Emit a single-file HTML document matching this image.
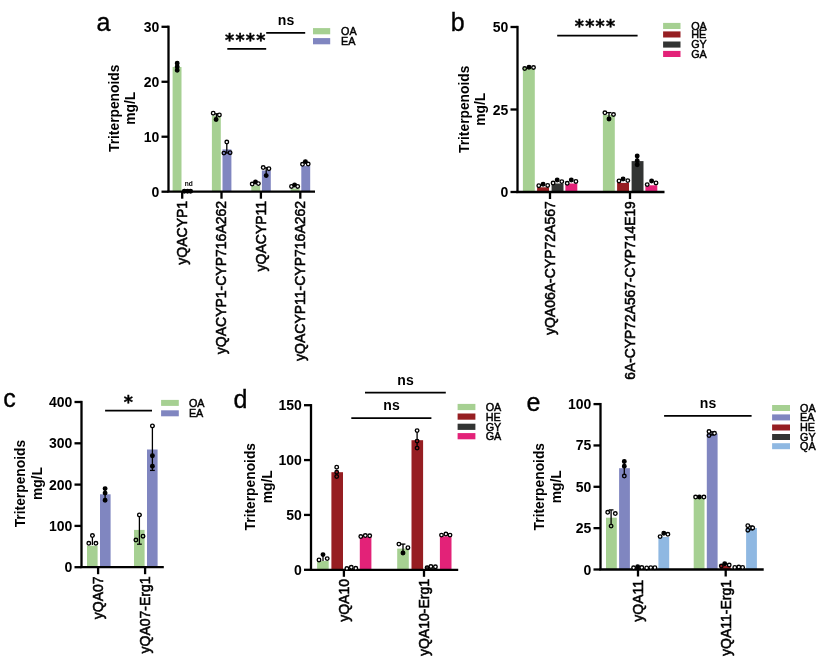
<!DOCTYPE html>
<html><head><meta charset="utf-8"><style>
html,body{margin:0;padding:0;background:#fff;}
svg{display:block;will-change:transform;}
text{font-family:"Liberation Sans", Arial, sans-serif;fill:#000;}
</style></head><body>
<svg width="831" height="670" viewBox="0 0 831 670">
<rect width="831" height="670" fill="#fff"/>
<rect x="172.60" y="67.00" width="8.90" height="124.70" fill="#a6d092"/>
<rect x="211.90" y="115.70" width="8.90" height="76.00" fill="#a6d092"/>
<rect x="222.50" y="149.40" width="8.90" height="42.30" fill="#8086c0"/>
<rect x="251.30" y="185.50" width="8.90" height="6.20" fill="#a6d092"/>
<rect x="261.90" y="170.50" width="8.90" height="21.20" fill="#8086c0"/>
<rect x="290.70" y="188.50" width="8.90" height="3.20" fill="#a6d092"/>
<rect x="301.30" y="165.80" width="8.90" height="25.90" fill="#8086c0"/>
<line x1="168.50" y1="25.65" x2="168.50" y2="191.70" stroke="#000" stroke-width="2.3"/>
<line x1="167.35" y1="191.70" x2="315.00" y2="191.70" stroke="#000" stroke-width="2.3"/>
<line x1="161.50" y1="191.70" x2="168.50" y2="191.70" stroke="#000" stroke-width="2.3"/>
<text x="159.30" y="196.70" font-size="14" font-weight="bold" text-anchor="end" >0</text>
<line x1="161.50" y1="136.73" x2="168.50" y2="136.73" stroke="#000" stroke-width="2.3"/>
<text x="159.30" y="141.73" font-size="14" font-weight="bold" text-anchor="end" >10</text>
<line x1="161.50" y1="81.77" x2="168.50" y2="81.77" stroke="#000" stroke-width="2.3"/>
<text x="159.30" y="86.77" font-size="14" font-weight="bold" text-anchor="end" >20</text>
<line x1="161.50" y1="26.80" x2="168.50" y2="26.80" stroke="#000" stroke-width="2.3"/>
<text x="159.30" y="31.80" font-size="14" font-weight="bold" text-anchor="end" >30</text>
<line x1="182.20" y1="191.70" x2="182.20" y2="198.70" stroke="#000" stroke-width="2.3"/>
<text transform="translate(187.10,200.90) rotate(-90)" font-size="14" font-weight="normal" text-anchor="end" stroke="#000" stroke-width="0.55">yQACYP1</text>
<line x1="221.50" y1="191.70" x2="221.50" y2="198.70" stroke="#000" stroke-width="2.3"/>
<text transform="translate(226.40,200.90) rotate(-90)" font-size="14" font-weight="normal" text-anchor="end" stroke="#000" stroke-width="0.55">yQACYP1-CYP716A262</text>
<line x1="260.90" y1="191.70" x2="260.90" y2="198.70" stroke="#000" stroke-width="2.3"/>
<text transform="translate(265.80,200.90) rotate(-90)" font-size="14" font-weight="normal" text-anchor="end" stroke="#000" stroke-width="0.55">yQACYP11</text>
<line x1="300.30" y1="191.70" x2="300.30" y2="198.70" stroke="#000" stroke-width="2.3"/>
<text transform="translate(305.20,200.90) rotate(-90)" font-size="14" font-weight="normal" text-anchor="end" stroke="#000" stroke-width="0.55">yQACYP11-CYP716A262</text>
<line x1="216.40" y1="113.80" x2="216.40" y2="119.40" stroke="#000" stroke-width="1.3"/>
<line x1="214.00" y1="113.80" x2="218.80" y2="113.80" stroke="#000" stroke-width="1.3"/>
<line x1="226.80" y1="142.00" x2="226.80" y2="153.00" stroke="#000" stroke-width="1.3"/>
<line x1="224.40" y1="153.00" x2="229.20" y2="153.00" stroke="#000" stroke-width="1.3"/>
<line x1="266.20" y1="167.80" x2="266.20" y2="175.60" stroke="#000" stroke-width="1.3"/>
<line x1="263.80" y1="167.80" x2="268.60" y2="167.80" stroke="#000" stroke-width="1.3"/>
<circle cx="177.20" cy="63.30" r="1.8" fill="#000" stroke="#000" stroke-width="1.35"/>
<circle cx="177.20" cy="66.80" r="1.8" fill="#000" stroke="#000" stroke-width="1.35"/>
<circle cx="177.20" cy="70.30" r="1.8" fill="#000" stroke="#000" stroke-width="1.35"/>
<circle cx="184.30" cy="191.30" r="1.8" fill="#000" stroke="#000" stroke-width="1.35"/>
<circle cx="187.50" cy="191.30" r="1.8" fill="#000" stroke="#000" stroke-width="1.35"/>
<circle cx="190.60" cy="191.30" r="1.8" fill="#000" stroke="#000" stroke-width="1.35"/>
<circle cx="213.20" cy="113.20" r="1.8" fill="#fff" stroke="#000" stroke-width="1.35"/>
<circle cx="219.40" cy="114.90" r="1.8" fill="#fff" stroke="#000" stroke-width="1.35"/>
<circle cx="216.10" cy="119.40" r="1.8" fill="#000" stroke="#000" stroke-width="1.35"/>
<circle cx="226.80" cy="142.00" r="1.8" fill="#fff" stroke="#000" stroke-width="1.35"/>
<circle cx="223.90" cy="153.10" r="1.8" fill="#8086c0" stroke="#000" stroke-width="1.35"/>
<circle cx="230.10" cy="152.70" r="1.8" fill="#8086c0" stroke="#000" stroke-width="1.35"/>
<circle cx="252.20" cy="184.00" r="1.8" fill="#fff" stroke="#000" stroke-width="1.35"/>
<circle cx="255.50" cy="181.90" r="1.8" fill="#000" stroke="#000" stroke-width="1.35"/>
<circle cx="258.40" cy="183.60" r="1.8" fill="#fff" stroke="#000" stroke-width="1.35"/>
<circle cx="263.20" cy="167.50" r="1.8" fill="#fff" stroke="#000" stroke-width="1.35"/>
<circle cx="268.90" cy="168.70" r="1.8" fill="#fff" stroke="#000" stroke-width="1.35"/>
<circle cx="266.20" cy="175.60" r="1.8" fill="#000" stroke="#000" stroke-width="1.35"/>
<circle cx="291.50" cy="186.40" r="1.8" fill="#fff" stroke="#000" stroke-width="1.35"/>
<circle cx="294.60" cy="184.90" r="1.8" fill="#000" stroke="#000" stroke-width="1.35"/>
<circle cx="297.70" cy="186.40" r="1.8" fill="#fff" stroke="#000" stroke-width="1.35"/>
<circle cx="302.50" cy="164.30" r="1.8" fill="#fff" stroke="#000" stroke-width="1.35"/>
<circle cx="305.40" cy="161.60" r="1.8" fill="#000" stroke="#000" stroke-width="1.35"/>
<circle cx="308.20" cy="164.00" r="1.8" fill="#fff" stroke="#000" stroke-width="1.35"/>
<text transform="translate(118.90,108.30) rotate(-90)" font-size="13.8" font-weight="bold" text-anchor="middle" >Triterpenoids</text>
<text transform="translate(134.90,108.30) rotate(-90)" font-size="13.8" font-weight="bold" text-anchor="middle" >mg/L</text>
<text x="96.60" y="30.80" font-size="25" font-weight="normal" text-anchor="start" stroke="#000" stroke-width="0.35">a</text>
<rect x="313.00" y="28.10" width="17.20" height="6.20" fill="#a6d092"/>
<text x="341.00" y="35.10" font-size="10.8" font-weight="normal" text-anchor="start" stroke="#000" stroke-width="0.45">OA</text>
<rect x="313.00" y="38.10" width="17.20" height="6.20" fill="#8086c0"/>
<text x="341.00" y="45.10" font-size="10.8" font-weight="normal" text-anchor="start" stroke="#000" stroke-width="0.45">EA</text>
<rect x="522.90" y="68.00" width="11.90" height="124.00" fill="#a6d092"/>
<rect x="537.10" y="187.30" width="11.90" height="4.70" fill="#961e22"/>
<rect x="551.60" y="183.50" width="11.90" height="8.50" fill="#323433"/>
<rect x="565.40" y="183.50" width="11.90" height="8.50" fill="#e32278"/>
<rect x="602.90" y="115.00" width="11.90" height="77.00" fill="#a6d092"/>
<rect x="617.10" y="182.90" width="11.90" height="9.10" fill="#961e22"/>
<rect x="631.60" y="161.10" width="11.90" height="30.90" fill="#323433"/>
<rect x="645.40" y="185.30" width="11.90" height="6.70" fill="#e32278"/>
<line x1="517.50" y1="25.85" x2="517.50" y2="192.00" stroke="#000" stroke-width="2.3"/>
<line x1="516.35" y1="192.00" x2="664.50" y2="192.00" stroke="#000" stroke-width="2.3"/>
<line x1="510.50" y1="192.00" x2="517.50" y2="192.00" stroke="#000" stroke-width="2.3"/>
<text x="508.30" y="197.00" font-size="14" font-weight="bold" text-anchor="end" >0</text>
<line x1="510.50" y1="109.50" x2="517.50" y2="109.50" stroke="#000" stroke-width="2.3"/>
<text x="508.30" y="114.50" font-size="14" font-weight="bold" text-anchor="end" >25</text>
<line x1="510.50" y1="27.00" x2="517.50" y2="27.00" stroke="#000" stroke-width="2.3"/>
<text x="508.30" y="32.00" font-size="14" font-weight="bold" text-anchor="end" >50</text>
<line x1="550.00" y1="192.00" x2="550.00" y2="199.00" stroke="#000" stroke-width="2.3"/>
<text transform="translate(554.90,201.20) rotate(-90)" font-size="14" font-weight="normal" text-anchor="end" stroke="#000" stroke-width="0.55">yQA06A-CYP72A567</text>
<line x1="630.00" y1="192.00" x2="630.00" y2="199.00" stroke="#000" stroke-width="2.3"/>
<text transform="translate(634.90,201.20) rotate(-90)" font-size="13.85" font-weight="normal" text-anchor="end" stroke="#000" stroke-width="0.55">6A-CYP72A567-CYP714E19</text>
<line x1="609.00" y1="112.60" x2="609.00" y2="119.00" stroke="#000" stroke-width="1.3"/>
<line x1="606.60" y1="112.60" x2="611.40" y2="112.60" stroke="#000" stroke-width="1.3"/>
<line x1="637.20" y1="156.00" x2="637.20" y2="164.80" stroke="#000" stroke-width="1.3"/>
<circle cx="524.70" cy="68.60" r="1.8" fill="#a6d092" stroke="#000" stroke-width="1.35"/>
<circle cx="529.00" cy="67.30" r="1.8" fill="#000" stroke="#000" stroke-width="1.35"/>
<circle cx="533.50" cy="67.50" r="1.8" fill="#fff" stroke="#000" stroke-width="1.35"/>
<circle cx="538.80" cy="185.70" r="1.8" fill="#fff" stroke="#000" stroke-width="1.35"/>
<circle cx="543.10" cy="184.30" r="1.8" fill="#000" stroke="#000" stroke-width="1.35"/>
<circle cx="547.70" cy="185.40" r="1.8" fill="#fff" stroke="#000" stroke-width="1.35"/>
<circle cx="553.10" cy="183.00" r="1.8" fill="#fff" stroke="#000" stroke-width="1.35"/>
<circle cx="557.20" cy="180.00" r="1.8" fill="#000" stroke="#000" stroke-width="1.35"/>
<circle cx="561.80" cy="181.60" r="1.8" fill="#fff" stroke="#000" stroke-width="1.35"/>
<circle cx="567.20" cy="183.30" r="1.8" fill="#fff" stroke="#000" stroke-width="1.35"/>
<circle cx="571.30" cy="180.00" r="1.8" fill="#000" stroke="#000" stroke-width="1.35"/>
<circle cx="575.90" cy="181.40" r="1.8" fill="#fff" stroke="#000" stroke-width="1.35"/>
<circle cx="604.90" cy="112.80" r="1.8" fill="#fff" stroke="#000" stroke-width="1.35"/>
<circle cx="613.50" cy="114.50" r="1.8" fill="#fff" stroke="#000" stroke-width="1.35"/>
<circle cx="609.00" cy="119.00" r="1.8" fill="#000" stroke="#000" stroke-width="1.35"/>
<circle cx="619.00" cy="180.90" r="1.8" fill="#fff" stroke="#000" stroke-width="1.35"/>
<circle cx="623.10" cy="178.90" r="1.8" fill="#000" stroke="#000" stroke-width="1.35"/>
<circle cx="627.80" cy="180.60" r="1.8" fill="#fff" stroke="#000" stroke-width="1.35"/>
<circle cx="637.20" cy="156.00" r="1.8" fill="#000" stroke="#000" stroke-width="1.35"/>
<circle cx="637.20" cy="160.70" r="1.8" fill="#000" stroke="#000" stroke-width="1.35"/>
<circle cx="637.20" cy="164.80" r="1.8" fill="#000" stroke="#000" stroke-width="1.35"/>
<circle cx="647.20" cy="184.60" r="1.8" fill="#fff" stroke="#000" stroke-width="1.35"/>
<circle cx="651.60" cy="180.90" r="1.8" fill="#000" stroke="#000" stroke-width="1.35"/>
<circle cx="656.00" cy="182.90" r="1.8" fill="#fff" stroke="#000" stroke-width="1.35"/>
<text transform="translate(469.20,109.30) rotate(-90)" font-size="13.8" font-weight="bold" text-anchor="middle" >Triterpenoids</text>
<text transform="translate(485.20,109.30) rotate(-90)" font-size="13.8" font-weight="bold" text-anchor="middle" >mg/L</text>
<text x="450.80" y="30.60" font-size="25" font-weight="normal" text-anchor="start" stroke="#000" stroke-width="0.35">b</text>
<rect x="663.10" y="22.90" width="17.40" height="6.10" fill="#a6d092"/>
<text x="691.20" y="29.85" font-size="10.8" font-weight="normal" text-anchor="start" stroke="#000" stroke-width="0.45">OA</text>
<rect x="663.10" y="31.40" width="17.40" height="6.10" fill="#961e22"/>
<text x="691.20" y="38.35" font-size="10.8" font-weight="normal" text-anchor="start" stroke="#000" stroke-width="0.45">HE</text>
<rect x="663.10" y="41.50" width="17.40" height="6.10" fill="#323433"/>
<text x="691.20" y="48.45" font-size="10.8" font-weight="normal" text-anchor="start" stroke="#000" stroke-width="0.45">GY</text>
<rect x="663.10" y="50.90" width="17.40" height="6.10" fill="#e32278"/>
<text x="691.20" y="57.85" font-size="10.8" font-weight="normal" text-anchor="start" stroke="#000" stroke-width="0.45">GA</text>
<rect x="87.00" y="545.70" width="10.60" height="21.50" fill="#a6d092"/>
<rect x="100.00" y="494.30" width="10.60" height="72.90" fill="#8086c0"/>
<rect x="134.00" y="529.90" width="10.60" height="37.30" fill="#a6d092"/>
<rect x="147.00" y="449.50" width="10.60" height="117.70" fill="#8086c0"/>
<line x1="81.50" y1="400.85" x2="81.50" y2="567.20" stroke="#000" stroke-width="2.3"/>
<line x1="80.35" y1="567.20" x2="163.80" y2="567.20" stroke="#000" stroke-width="2.3"/>
<line x1="74.50" y1="567.20" x2="81.50" y2="567.20" stroke="#000" stroke-width="2.3"/>
<text x="72.30" y="572.20" font-size="14" font-weight="bold" text-anchor="end" >0</text>
<line x1="74.50" y1="525.90" x2="81.50" y2="525.90" stroke="#000" stroke-width="2.3"/>
<text x="72.30" y="530.90" font-size="14" font-weight="bold" text-anchor="end" >100</text>
<line x1="74.50" y1="484.60" x2="81.50" y2="484.60" stroke="#000" stroke-width="2.3"/>
<text x="72.30" y="489.60" font-size="14" font-weight="bold" text-anchor="end" >200</text>
<line x1="74.50" y1="443.30" x2="81.50" y2="443.30" stroke="#000" stroke-width="2.3"/>
<text x="72.30" y="448.30" font-size="14" font-weight="bold" text-anchor="end" >300</text>
<line x1="74.50" y1="402.00" x2="81.50" y2="402.00" stroke="#000" stroke-width="2.3"/>
<text x="72.30" y="407.00" font-size="14" font-weight="bold" text-anchor="end" >400</text>
<line x1="98.10" y1="567.20" x2="98.10" y2="574.20" stroke="#000" stroke-width="2.3"/>
<text transform="translate(103.00,576.40) rotate(-90)" font-size="14" font-weight="normal" text-anchor="end" stroke="#000" stroke-width="0.55">yQA07</text>
<line x1="145.10" y1="567.20" x2="145.10" y2="574.20" stroke="#000" stroke-width="2.3"/>
<text transform="translate(150.00,576.40) rotate(-90)" font-size="14" font-weight="normal" text-anchor="end" stroke="#000" stroke-width="0.55">yQA07-Erg1</text>
<line x1="92.40" y1="535.50" x2="92.40" y2="545.00" stroke="#000" stroke-width="1.3"/>
<line x1="90.00" y1="535.50" x2="94.80" y2="535.50" stroke="#000" stroke-width="1.3"/>
<line x1="105.10" y1="488.60" x2="105.10" y2="500.30" stroke="#000" stroke-width="1.3"/>
<line x1="139.40" y1="514.90" x2="139.40" y2="544.20" stroke="#000" stroke-width="1.3"/>
<line x1="137.00" y1="514.90" x2="141.80" y2="514.90" stroke="#000" stroke-width="1.3"/>
<line x1="137.00" y1="544.20" x2="141.80" y2="544.20" stroke="#000" stroke-width="1.3"/>
<line x1="152.40" y1="425.90" x2="152.40" y2="470.40" stroke="#000" stroke-width="1.3"/>
<line x1="150.00" y1="425.90" x2="154.80" y2="425.90" stroke="#000" stroke-width="1.3"/>
<line x1="150.00" y1="470.40" x2="154.80" y2="470.40" stroke="#000" stroke-width="1.3"/>
<circle cx="92.40" cy="535.50" r="1.8" fill="#fff" stroke="#000" stroke-width="1.35"/>
<circle cx="88.80" cy="543.30" r="1.8" fill="#fff" stroke="#000" stroke-width="1.35"/>
<circle cx="95.90" cy="543.30" r="1.8" fill="#fff" stroke="#000" stroke-width="1.35"/>
<circle cx="105.10" cy="488.60" r="1.8" fill="#000" stroke="#000" stroke-width="1.35"/>
<circle cx="105.10" cy="493.10" r="1.8" fill="#000" stroke="#000" stroke-width="1.35"/>
<circle cx="105.10" cy="500.30" r="1.8" fill="#000" stroke="#000" stroke-width="1.35"/>
<circle cx="139.40" cy="514.90" r="1.8" fill="#fff" stroke="#000" stroke-width="1.35"/>
<circle cx="135.90" cy="540.00" r="1.8" fill="#a6d092" stroke="#000" stroke-width="1.35"/>
<circle cx="143.00" cy="536.20" r="1.8" fill="#a6d092" stroke="#000" stroke-width="1.35"/>
<circle cx="152.40" cy="425.90" r="1.8" fill="#fff" stroke="#000" stroke-width="1.35"/>
<circle cx="152.40" cy="455.70" r="1.8" fill="#000" stroke="#000" stroke-width="1.35"/>
<circle cx="152.40" cy="466.20" r="1.8" fill="#000" stroke="#000" stroke-width="1.35"/>
<text transform="translate(25.30,483.60) rotate(-90)" font-size="13.8" font-weight="bold" text-anchor="middle" >Triterpenoids</text>
<text transform="translate(42.40,483.60) rotate(-90)" font-size="13.8" font-weight="bold" text-anchor="middle" >mg/L</text>
<text x="3.30" y="407.20" font-size="25" font-weight="normal" text-anchor="start" stroke="#000" stroke-width="0.35">c</text>
<rect x="161.10" y="399.90" width="17.70" height="6.00" fill="#a6d092"/>
<text x="188.90" y="406.80" font-size="10.8" font-weight="normal" text-anchor="start" stroke="#000" stroke-width="0.45">OA</text>
<rect x="161.10" y="410.30" width="17.70" height="6.00" fill="#8086c0"/>
<text x="188.90" y="417.20" font-size="10.8" font-weight="normal" text-anchor="start" stroke="#000" stroke-width="0.45">EA</text>
<rect x="317.10" y="561.00" width="11.60" height="8.80" fill="#a6d092"/>
<rect x="331.40" y="472.20" width="11.60" height="97.60" fill="#961e22"/>
<rect x="345.60" y="568.70" width="11.60" height="1.10" fill="#323433"/>
<rect x="359.80" y="536.80" width="11.60" height="33.00" fill="#e32278"/>
<rect x="397.20" y="548.60" width="11.60" height="21.20" fill="#a6d092"/>
<rect x="411.50" y="440.20" width="11.60" height="129.60" fill="#961e22"/>
<rect x="425.70" y="567.50" width="11.60" height="2.30" fill="#323433"/>
<rect x="439.90" y="536.30" width="11.60" height="33.50" fill="#e32278"/>
<line x1="311.00" y1="404.05" x2="311.00" y2="569.80" stroke="#000" stroke-width="2.3"/>
<line x1="309.85" y1="569.80" x2="458.20" y2="569.80" stroke="#000" stroke-width="2.3"/>
<line x1="304.00" y1="569.80" x2="311.00" y2="569.80" stroke="#000" stroke-width="2.3"/>
<text x="301.80" y="574.80" font-size="14" font-weight="bold" text-anchor="end" >0</text>
<line x1="304.00" y1="514.93" x2="311.00" y2="514.93" stroke="#000" stroke-width="2.3"/>
<text x="301.80" y="519.93" font-size="14" font-weight="bold" text-anchor="end" >50</text>
<line x1="304.00" y1="460.07" x2="311.00" y2="460.07" stroke="#000" stroke-width="2.3"/>
<text x="301.80" y="465.07" font-size="14" font-weight="bold" text-anchor="end" >100</text>
<line x1="304.00" y1="405.20" x2="311.00" y2="405.20" stroke="#000" stroke-width="2.3"/>
<text x="301.80" y="410.20" font-size="14" font-weight="bold" text-anchor="end" >150</text>
<line x1="343.90" y1="569.80" x2="343.90" y2="576.80" stroke="#000" stroke-width="2.3"/>
<text transform="translate(348.80,579.00) rotate(-90)" font-size="14" font-weight="normal" text-anchor="end" stroke="#000" stroke-width="0.55">yQA10</text>
<line x1="424.00" y1="569.80" x2="424.00" y2="576.80" stroke="#000" stroke-width="2.3"/>
<text transform="translate(428.90,579.00) rotate(-90)" font-size="14" font-weight="normal" text-anchor="end" stroke="#000" stroke-width="0.55">yQA10-Erg1</text>
<line x1="323.00" y1="554.60" x2="323.00" y2="561.00" stroke="#000" stroke-width="1.3"/>
<line x1="403.00" y1="544.10" x2="403.00" y2="553.00" stroke="#000" stroke-width="1.3"/>
<line x1="400.60" y1="544.10" x2="405.40" y2="544.10" stroke="#000" stroke-width="1.3"/>
<line x1="417.10" y1="430.60" x2="417.10" y2="448.10" stroke="#000" stroke-width="1.3"/>
<circle cx="319.00" cy="559.90" r="1.8" fill="#fff" stroke="#000" stroke-width="1.35"/>
<circle cx="323.00" cy="554.60" r="1.8" fill="#000" stroke="#000" stroke-width="1.35"/>
<circle cx="327.20" cy="558.60" r="1.8" fill="#fff" stroke="#000" stroke-width="1.35"/>
<circle cx="336.70" cy="467.20" r="1.8" fill="#fff" stroke="#000" stroke-width="1.35"/>
<circle cx="336.70" cy="472.20" r="1.8" fill="#961e22" stroke="#000" stroke-width="1.35"/>
<circle cx="336.70" cy="476.50" r="1.8" fill="#961e22" stroke="#000" stroke-width="1.35"/>
<circle cx="346.90" cy="568.50" r="1.8" fill="#fff" stroke="#000" stroke-width="1.35"/>
<circle cx="351.30" cy="567.30" r="1.8" fill="#fff" stroke="#000" stroke-width="1.35"/>
<circle cx="355.80" cy="568.30" r="1.8" fill="#fff" stroke="#000" stroke-width="1.35"/>
<circle cx="360.80" cy="536.50" r="1.8" fill="#fff" stroke="#000" stroke-width="1.35"/>
<circle cx="365.30" cy="535.50" r="1.8" fill="#fff" stroke="#000" stroke-width="1.35"/>
<circle cx="369.70" cy="535.80" r="1.8" fill="#fff" stroke="#000" stroke-width="1.35"/>
<circle cx="398.90" cy="544.10" r="1.8" fill="#fff" stroke="#000" stroke-width="1.35"/>
<circle cx="407.90" cy="547.70" r="1.8" fill="#fff" stroke="#000" stroke-width="1.35"/>
<circle cx="403.00" cy="553.00" r="1.8" fill="#000" stroke="#000" stroke-width="1.35"/>
<circle cx="417.10" cy="430.60" r="1.8" fill="#fff" stroke="#000" stroke-width="1.35"/>
<circle cx="417.10" cy="441.10" r="1.8" fill="#961e22" stroke="#000" stroke-width="1.35"/>
<circle cx="417.10" cy="448.10" r="1.8" fill="#961e22" stroke="#000" stroke-width="1.35"/>
<circle cx="427.10" cy="567.60" r="1.8" fill="#323433" stroke="#000" stroke-width="1.35"/>
<circle cx="430.90" cy="566.50" r="1.8" fill="#fff" stroke="#000" stroke-width="1.35"/>
<circle cx="435.40" cy="566.80" r="1.8" fill="#fff" stroke="#000" stroke-width="1.35"/>
<circle cx="441.50" cy="535.10" r="1.8" fill="#fff" stroke="#000" stroke-width="1.35"/>
<circle cx="445.90" cy="534.00" r="1.8" fill="#fff" stroke="#000" stroke-width="1.35"/>
<circle cx="450.00" cy="535.10" r="1.8" fill="#fff" stroke="#000" stroke-width="1.35"/>
<text transform="translate(254.50,486.70) rotate(-90)" font-size="13.8" font-weight="bold" text-anchor="middle" >Triterpenoids</text>
<text transform="translate(271.50,486.70) rotate(-90)" font-size="13.8" font-weight="bold" text-anchor="middle" >mg/L</text>
<text x="233.50" y="407.60" font-size="25" font-weight="normal" text-anchor="start" stroke="#000" stroke-width="0.35">d</text>
<rect x="457.60" y="403.90" width="17.80" height="6.20" fill="#a6d092"/>
<text x="485.70" y="410.90" font-size="10.8" font-weight="normal" text-anchor="start" stroke="#000" stroke-width="0.45">OA</text>
<rect x="457.60" y="413.50" width="17.80" height="6.20" fill="#961e22"/>
<text x="485.70" y="420.50" font-size="10.8" font-weight="normal" text-anchor="start" stroke="#000" stroke-width="0.45">HE</text>
<rect x="457.60" y="423.70" width="17.80" height="6.20" fill="#323433"/>
<text x="485.70" y="430.70" font-size="10.8" font-weight="normal" text-anchor="start" stroke="#000" stroke-width="0.45">GY</text>
<rect x="457.60" y="433.10" width="17.80" height="6.20" fill="#e32278"/>
<text x="485.70" y="440.10" font-size="10.8" font-weight="normal" text-anchor="start" stroke="#000" stroke-width="0.45">GA</text>
<rect x="606.00" y="517.70" width="10.80" height="51.80" fill="#a6d092"/>
<rect x="619.10" y="468.20" width="10.80" height="101.30" fill="#8086c0"/>
<rect x="632.20" y="568.00" width="10.80" height="1.50" fill="#961e22"/>
<rect x="645.30" y="568.50" width="10.80" height="1.00" fill="#323433"/>
<rect x="658.40" y="536.90" width="10.80" height="32.60" fill="#8fb8e2"/>
<rect x="693.70" y="497.10" width="10.80" height="72.40" fill="#a6d092"/>
<rect x="706.80" y="433.50" width="10.80" height="136.00" fill="#8086c0"/>
<rect x="719.90" y="565.60" width="10.80" height="3.90" fill="#961e22"/>
<rect x="733.00" y="568.50" width="10.80" height="1.00" fill="#323433"/>
<rect x="746.10" y="528.00" width="10.80" height="41.50" fill="#8fb8e2"/>
<line x1="600.50" y1="402.95" x2="600.50" y2="569.50" stroke="#000" stroke-width="2.3"/>
<line x1="599.35" y1="569.50" x2="763.70" y2="569.50" stroke="#000" stroke-width="2.3"/>
<line x1="593.50" y1="569.50" x2="600.50" y2="569.50" stroke="#000" stroke-width="2.3"/>
<text x="591.30" y="574.50" font-size="14" font-weight="bold" text-anchor="end" >0</text>
<line x1="593.50" y1="528.15" x2="600.50" y2="528.15" stroke="#000" stroke-width="2.3"/>
<text x="591.30" y="533.15" font-size="14" font-weight="bold" text-anchor="end" >25</text>
<line x1="593.50" y1="486.80" x2="600.50" y2="486.80" stroke="#000" stroke-width="2.3"/>
<text x="591.30" y="491.80" font-size="14" font-weight="bold" text-anchor="end" >50</text>
<line x1="593.50" y1="445.45" x2="600.50" y2="445.45" stroke="#000" stroke-width="2.3"/>
<text x="591.30" y="450.45" font-size="14" font-weight="bold" text-anchor="end" >75</text>
<line x1="593.50" y1="404.10" x2="600.50" y2="404.10" stroke="#000" stroke-width="2.3"/>
<text x="591.30" y="409.10" font-size="14" font-weight="bold" text-anchor="end" >100</text>
<line x1="638.00" y1="569.50" x2="638.00" y2="576.50" stroke="#000" stroke-width="2.3"/>
<text transform="translate(642.90,579.90) rotate(-90)" font-size="14" font-weight="normal" text-anchor="end" stroke="#000" stroke-width="0.55">yQA11</text>
<line x1="725.70" y1="569.50" x2="725.70" y2="576.50" stroke="#000" stroke-width="2.3"/>
<text transform="translate(730.60,579.90) rotate(-90)" font-size="14" font-weight="normal" text-anchor="end" stroke="#000" stroke-width="0.55">yQA11-Erg1</text>
<line x1="611.10" y1="509.90" x2="611.10" y2="526.00" stroke="#000" stroke-width="1.3"/>
<line x1="608.70" y1="509.90" x2="613.50" y2="509.90" stroke="#000" stroke-width="1.3"/>
<line x1="624.30" y1="459.50" x2="624.30" y2="476.00" stroke="#000" stroke-width="1.3"/>
<line x1="712.00" y1="431.80" x2="712.00" y2="435.00" stroke="#000" stroke-width="1.3"/>
<line x1="709.60" y1="431.80" x2="714.40" y2="431.80" stroke="#000" stroke-width="1.3"/>
<line x1="709.60" y1="435.00" x2="714.40" y2="435.00" stroke="#000" stroke-width="1.3"/>
<line x1="751.00" y1="526.00" x2="751.00" y2="529.80" stroke="#000" stroke-width="1.3"/>
<line x1="748.60" y1="526.00" x2="753.40" y2="526.00" stroke="#000" stroke-width="1.3"/>
<line x1="748.60" y1="529.80" x2="753.40" y2="529.80" stroke="#000" stroke-width="1.3"/>
<circle cx="607.70" cy="512.30" r="1.8" fill="#fff" stroke="#000" stroke-width="1.35"/>
<circle cx="615.30" cy="513.50" r="1.8" fill="#fff" stroke="#000" stroke-width="1.35"/>
<circle cx="611.10" cy="526.10" r="1.8" fill="#a6d092" stroke="#000" stroke-width="1.35"/>
<circle cx="624.30" cy="461.50" r="1.8" fill="#000" stroke="#000" stroke-width="1.35"/>
<circle cx="624.30" cy="466.20" r="1.8" fill="#000" stroke="#000" stroke-width="1.35"/>
<circle cx="624.30" cy="476.00" r="1.8" fill="#8086c0" stroke="#000" stroke-width="1.35"/>
<circle cx="633.60" cy="567.80" r="1.8" fill="#fff" stroke="#000" stroke-width="1.35"/>
<circle cx="637.70" cy="566.80" r="1.8" fill="#000" stroke="#000" stroke-width="1.35"/>
<circle cx="641.80" cy="567.50" r="1.8" fill="#fff" stroke="#000" stroke-width="1.35"/>
<circle cx="646.70" cy="567.90" r="1.8" fill="#fff" stroke="#000" stroke-width="1.35"/>
<circle cx="650.80" cy="567.60" r="1.8" fill="#fff" stroke="#000" stroke-width="1.35"/>
<circle cx="654.90" cy="567.70" r="1.8" fill="#fff" stroke="#000" stroke-width="1.35"/>
<circle cx="660.10" cy="536.60" r="1.8" fill="#fff" stroke="#000" stroke-width="1.35"/>
<circle cx="663.80" cy="533.20" r="1.8" fill="#000" stroke="#000" stroke-width="1.35"/>
<circle cx="667.90" cy="534.30" r="1.8" fill="#fff" stroke="#000" stroke-width="1.35"/>
<circle cx="695.60" cy="497.00" r="1.8" fill="#fff" stroke="#000" stroke-width="1.35"/>
<circle cx="699.40" cy="497.00" r="1.8" fill="#000" stroke="#000" stroke-width="1.35"/>
<circle cx="703.90" cy="497.00" r="1.8" fill="#fff" stroke="#000" stroke-width="1.35"/>
<circle cx="709.00" cy="431.50" r="1.8" fill="#fff" stroke="#000" stroke-width="1.35"/>
<circle cx="709.00" cy="435.50" r="1.8" fill="#8086c0" stroke="#000" stroke-width="1.35"/>
<circle cx="714.50" cy="433.30" r="1.8" fill="#fff" stroke="#000" stroke-width="1.35"/>
<circle cx="721.30" cy="566.00" r="1.8" fill="#961e22" stroke="#000" stroke-width="1.35"/>
<circle cx="724.70" cy="563.80" r="1.8" fill="#000" stroke="#000" stroke-width="1.35"/>
<circle cx="729.20" cy="565.00" r="1.8" fill="#fff" stroke="#000" stroke-width="1.35"/>
<circle cx="734.80" cy="567.40" r="1.8" fill="#fff" stroke="#000" stroke-width="1.35"/>
<circle cx="738.80" cy="567.00" r="1.8" fill="#fff" stroke="#000" stroke-width="1.35"/>
<circle cx="742.60" cy="567.40" r="1.8" fill="#fff" stroke="#000" stroke-width="1.35"/>
<circle cx="747.80" cy="525.70" r="1.8" fill="#fff" stroke="#000" stroke-width="1.35"/>
<circle cx="747.80" cy="530.20" r="1.8" fill="#8fb8e2" stroke="#000" stroke-width="1.35"/>
<circle cx="752.70" cy="527.90" r="1.8" fill="#fff" stroke="#000" stroke-width="1.35"/>
<text transform="translate(544.30,486.70) rotate(-90)" font-size="13.8" font-weight="bold" text-anchor="middle" >Triterpenoids</text>
<text transform="translate(561.30,486.70) rotate(-90)" font-size="13.8" font-weight="bold" text-anchor="middle" >mg/L</text>
<text x="526.50" y="411.00" font-size="25" font-weight="normal" text-anchor="start" stroke="#000" stroke-width="0.35">e</text>
<rect x="772.10" y="405.00" width="17.90" height="6.00" fill="#a6d092"/>
<text x="800.00" y="411.90" font-size="10.8" font-weight="normal" text-anchor="start" stroke="#000" stroke-width="0.45">OA</text>
<rect x="772.10" y="414.40" width="17.90" height="6.00" fill="#8086c0"/>
<text x="800.00" y="421.30" font-size="10.8" font-weight="normal" text-anchor="start" stroke="#000" stroke-width="0.45">EA</text>
<rect x="772.10" y="424.50" width="17.90" height="6.00" fill="#961e22"/>
<text x="800.00" y="431.40" font-size="10.8" font-weight="normal" text-anchor="start" stroke="#000" stroke-width="0.45">HE</text>
<rect x="772.10" y="434.00" width="17.90" height="6.00" fill="#323433"/>
<text x="800.00" y="440.90" font-size="10.8" font-weight="normal" text-anchor="start" stroke="#000" stroke-width="0.45">GY</text>
<rect x="772.10" y="443.20" width="17.90" height="6.00" fill="#8fb8e2"/>
<text x="800.00" y="450.10" font-size="10.8" font-weight="normal" text-anchor="start" stroke="#000" stroke-width="0.45">QA</text>
<text x="188.80" y="185.90" font-size="6.6" font-weight="bold" text-anchor="middle" >nd</text>
<line x1="227.30" y1="48.90" x2="266.20" y2="48.90" stroke="#000" stroke-width="1.7"/>
<text x="225.00" y="45.80" font-size="17.5" font-weight="bold" text-anchor="start" style="font-family:'DejaVu Sans',sans-serif;letter-spacing:1.25px" stroke="#000" stroke-width="0.4">****</text>
<line x1="266.20" y1="32.90" x2="305.20" y2="32.90" stroke="#000" stroke-width="1.7"/>
<text x="286.00" y="24.70" font-size="14" font-weight="bold" text-anchor="middle" >ns</text>
<line x1="557.20" y1="35.70" x2="637.60" y2="35.70" stroke="#000" stroke-width="1.7"/>
<text x="574.80" y="32.00" font-size="17.5" font-weight="bold" text-anchor="start" style="font-family:'DejaVu Sans',sans-serif;letter-spacing:1.25px" stroke="#000" stroke-width="0.4">****</text>
<line x1="105.10" y1="410.70" x2="152.00" y2="410.70" stroke="#000" stroke-width="1.7"/>
<text x="123.80" y="408.20" font-size="17.5" font-weight="bold" text-anchor="start" style="font-family:'DejaVu Sans',sans-serif;letter-spacing:1.25px" stroke="#000" stroke-width="0.4">*</text>
<line x1="365.00" y1="392.60" x2="445.80" y2="392.60" stroke="#000" stroke-width="1.7"/>
<text x="405.50" y="384.80" font-size="14" font-weight="bold" text-anchor="middle" >ns</text>
<line x1="351.30" y1="418.20" x2="431.40" y2="418.20" stroke="#000" stroke-width="1.7"/>
<text x="391.50" y="410.40" font-size="14" font-weight="bold" text-anchor="middle" >ns</text>
<line x1="664.10" y1="415.90" x2="751.60" y2="415.90" stroke="#000" stroke-width="1.7"/>
<text x="708.00" y="407.60" font-size="14" font-weight="bold" text-anchor="middle" >ns</text>
</svg></body></html>
